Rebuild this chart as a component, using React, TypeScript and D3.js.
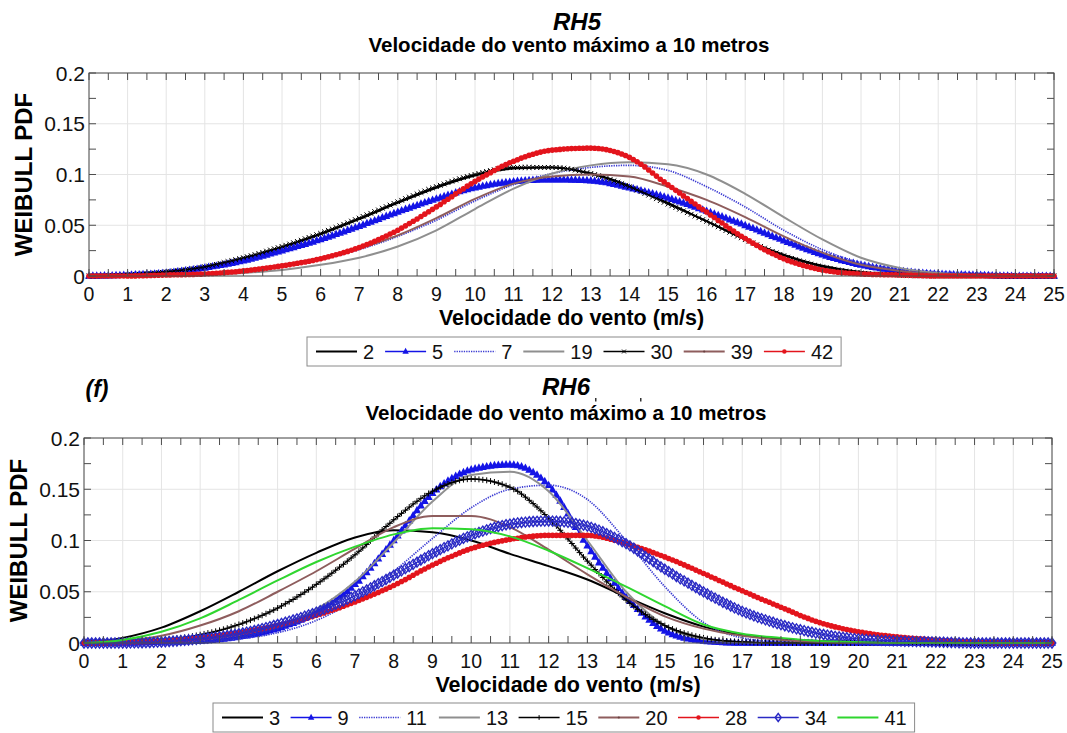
import React, { useLayoutEffect, useRef, useState } from "react";
import * as d3 from "d3";

// wind speed (m/s) at which each curve was read
const speeds = [0, 1, 2, 3, 4, 5, 6, 7, 8, 9, 10, 11, 12, 13, 14, 15, 16, 17, 18, 19, 20, 21, 22, 23, 24, 25];
const yTicks = [0, 0.05, 0.1, 0.15, 0.2];
const yTickLabels = ["0", "0.05", "0.1", "0.15", "0.2"];

// RH5 - weibull pdf
const rh5_2 = [0, 0.001, 0.004, 0.009, 0.017, 0.028, 0.041, 0.056, 0.072, 0.087, 0.099, 0.106, 0.107, 0.101, 0.089, 0.072, 0.054, 0.036, 0.021, 0.01, 0.004, 0.001, 0, 0, 0, 0];
const rh5_5 = [0, 0.001, 0.003, 0.008, 0.015, 0.025, 0.036, 0.049, 0.063, 0.076, 0.087, 0.093, 0.095, 0.094, 0.087, 0.077, 0.064, 0.05, 0.035, 0.021, 0.011, 0.005, 0.002, 0.001, 0, 0];
const rh5_7 = [0, 0, 0.001, 0.002, 0.005, 0.009, 0.016, 0.026, 0.039, 0.055, 0.074, 0.09, 0.101, 0.107, 0.109, 0.104, 0.088, 0.068, 0.045, 0.026, 0.013, 0.007, 0.004, 0.003, 0.002, 0.002];
const rh5_19 = [0, 0, 0, 0.001, 0.003, 0.006, 0.011, 0.018, 0.029, 0.045, 0.066, 0.086, 0.101, 0.109, 0.112, 0.11, 0.1, 0.081, 0.058, 0.036, 0.018, 0.008, 0.003, 0.001, 0, 0];
const rh5_30 = [0, 0.001, 0.004, 0.009, 0.018, 0.029, 0.042, 0.057, 0.073, 0.088, 0.1, 0.107, 0.107, 0.101, 0.088, 0.071, 0.054, 0.036, 0.02, 0.009, 0.003, 0.001, 0, 0, 0, 0];
const rh5_39 = [0, 0, 0.001, 0.003, 0.006, 0.011, 0.018, 0.027, 0.04, 0.057, 0.076, 0.091, 0.098, 0.1, 0.098, 0.088, 0.075, 0.058, 0.039, 0.023, 0.011, 0.005, 0.002, 0.001, 0, 0];
const rh5_42 = [0, 0, 0.001, 0.002, 0.005, 0.01, 0.017, 0.028, 0.045, 0.068, 0.093, 0.113, 0.124, 0.126, 0.117, 0.09, 0.063, 0.037, 0.017, 0.006, 0.002, 0.001, 0, 0, 0, 0];

// RH6
const rh6_3 = [0, 0.005, 0.015, 0.031, 0.05, 0.07, 0.088, 0.103, 0.11, 0.108, 0.1, 0.087, 0.075, 0.062, 0.045, 0.029, 0.016, 0.008, 0.004, 0.002, 0.001, 0, 0, 0, 0, 0];
const rh6_9 = [0, 0, 0.001, 0.002, 0.006, 0.014, 0.03, 0.057, 0.1, 0.146, 0.169, 0.174, 0.154, 0.095, 0.045, 0.012, 0.002, 0, 0, 0, 0, 0, 0, 0, 0, 0];
const rh6_11 = [0, 0, 0, 0.001, 0.004, 0.01, 0.022, 0.042, 0.07, 0.102, 0.132, 0.15, 0.154, 0.14, 0.1, 0.055, 0.02, 0.005, 0.001, 0, 0, 0, 0, 0, 0, 0];
const rh6_13 = [0, 0, 0.001, 0.003, 0.008, 0.017, 0.033, 0.06, 0.098, 0.138, 0.164, 0.167, 0.148, 0.1, 0.05, 0.017, 0.004, 0.001, 0, 0, 0, 0, 0, 0, 0, 0];
const rh6_15 = [0, 0.001, 0.003, 0.008, 0.018, 0.034, 0.057, 0.086, 0.12, 0.148, 0.16, 0.152, 0.122, 0.08, 0.042, 0.017, 0.005, 0.001, 0, 0, 0, 0, 0, 0, 0, 0];
const rh6_20 = [0, 0.002, 0.007, 0.017, 0.031, 0.05, 0.07, 0.092, 0.113, 0.124, 0.124, 0.113, 0.091, 0.067, 0.045, 0.026, 0.014, 0.007, 0.003, 0.001, 0, 0, 0, 0, 0, 0];
const rh6_28 = [0, 0.0005, 0.002, 0.005, 0.01, 0.017, 0.027, 0.04, 0.056, 0.076, 0.092, 0.101, 0.105, 0.105, 0.097, 0.084, 0.068, 0.051, 0.035, 0.02, 0.011, 0.006, 0.003, 0.001, 0, 0];
const rh6_34 = [0, 0, 0.001, 0.004, 0.009, 0.018, 0.03, 0.046, 0.066, 0.087, 0.105, 0.116, 0.119, 0.114, 0.097, 0.072, 0.05, 0.031, 0.018, 0.009, 0.004, 0.002, 0.001, 0, 0, 0];
const rh6_41 = [0, 0.003, 0.011, 0.024, 0.042, 0.061, 0.079, 0.094, 0.106, 0.112, 0.111, 0.104, 0.09, 0.073, 0.055, 0.036, 0.018, 0.009, 0.005, 0.002, 0.001, 0, 0, 0, 0, 0];

const rh5Series = [
  { name: "2", values: rh5_2, kind: "black" },
  { name: "5", values: rh5_5, kind: "tri" },
  { name: "7", values: rh5_7, kind: "dotted" },
  { name: "19", values: rh5_19, kind: "gray" },
  { name: "30", values: rh5_30, kind: "cross" },
  { name: "39", values: rh5_39, kind: "brown" },
  { name: "42", values: rh5_42, kind: "red" },
];

const rh6Series = [
  { name: "3", values: rh6_3, kind: "black" },
  { name: "9", values: rh6_9, kind: "tri" },
  { name: "11", values: rh6_11, kind: "dotted" },
  { name: "13", values: rh6_13, kind: "gray" },
  { name: "15", values: rh6_15, kind: "plus" },
  { name: "20", values: rh6_20, kind: "brown" },
  { name: "28", values: rh6_28, kind: "red" },
  { name: "34", values: rh6_34, kind: "diamond" },
  { name: "41", values: rh6_41, kind: "green" },
];

type Kind = {
  color: string;
  width: number;
  dash?: string;
  marker?: string;
  legendMarker?: string;
  markerColor?: string;
};

const kinds: Record<string, Kind> = {
  black: { color: "#000000", width: 2 },
  tri: { color: "#1414e6", width: 1.5, marker: "tri" },
  dotted: { color: "#3a3ad2", width: 1.7, dash: "1.3 1.1" },
  gray: { color: "#8f8f8f", width: 2 },
  cross: { color: "#000000", width: 1.3, marker: "x" },
  plus: { color: "#000000", width: 1.3, marker: "plus" },
  brown: { color: "#8e5d5d", width: 2, legendMarker: "dot", markerColor: "#6a4040" },
  red: { color: "#e3141c", width: 1.5, marker: "circle" },
  diamond: { color: "#2a2ac4", width: 1.3, marker: "diamond" },
  green: { color: "#2fd62f", width: 2 },
};

const FONT = "Liberation Sans, Arial, Helvetica, sans-serif";

const Marker = ({ type, x, y, color, s = 1 }: { type: string; x: number; y: number; color: string; s?: number }) => {
  if (type === "tri")
    return <polygon points={`${x},${y - 4.6 * s} ${x - 4 * s},${y + 2.8 * s} ${x + 4 * s},${y + 2.8 * s}`} fill={color} />;
  if (type === "circle") return <circle cx={x} cy={y} r={2.8 * s} fill={color} />;
  if (type === "dot") return <circle cx={x} cy={y} r={1.4 * s} fill={color} />;
  if (type === "diamond")
    return (
      <polygon
        points={`${x},${y - 5 * s} ${x + 3.8 * s},${y} ${x},${y + 5 * s} ${x - 3.8 * s},${y}`}
        fill="none"
        stroke={color}
        strokeWidth={1.4}
      />
    );
  if (type === "x")
    return (
      <path
        d={`M${x - 2.4 * s},${y - 2.4 * s}L${x + 2.4 * s},${y + 2.4 * s}M${x - 2.4 * s},${y + 2.4 * s}L${x + 2.4 * s},${y - 2.4 * s}`}
        stroke={color}
        strokeWidth={1}
      />
    );
  if (type === "plus")
    return (
      <path
        d={`M${x - 3 * s},${y}L${x + 3 * s},${y}M${x},${y - 3 * s}L${x},${y + 3 * s}`}
        stroke={color}
        strokeWidth={1}
      />
    );
  return null;
};

const Curve = ({ values, kind, xScale, yScale }: any) => {
  const st = kinds[kind];
  const pathRef = useRef<SVGPathElement>(null);
  const [pts, setPts] = useState<number[][]>([]);

  const d =
    d3
      .line<number>()
      .x((_, i) => xScale(speeds[i]))
      .y((v) => yScale(v))
      .curve(d3.curveMonotoneX)(values) || "";

  // markers sit on the drawn curve every 0.1 m/s, like the dense matlab markers
  useLayoutEffect(() => {
    const p = pathRef.current;
    if (!st.marker || !p) return;
    const total = p.getTotalLength();
    const samples: DOMPoint[] = [];
    for (let l = 0; l <= total; l += 0.5) samples.push(p.getPointAtLength(l));
    samples.push(p.getPointAtLength(total));
    const step = (xScale(1) - xScale(0)) / 10;
    const out: number[][] = [];
    let j = 0;
    for (let px = xScale(0); px <= xScale(25) + 0.01; px += step) {
      while (j < samples.length - 1 && samples[j].x < px) j++;
      out.push([px, samples[j].y]);
    }
    setPts(out);
  }, [d]);

  return (
    <g>
      <path
        ref={pathRef}
        d={d}
        fill="none"
        stroke={st.color}
        strokeWidth={st.width}
        strokeDasharray={st.dash}
        strokeLinejoin="round"
      />
      {st.marker &&
        pts.map((pt, i) => <Marker key={i} type={st.marker!} x={pt[0]} y={pt[1]} color={st.color} />)}
    </g>
  );
};

const Panel = ({ left, right, top, bottom, series }: any) => {
  const xScale = d3.scaleLinear().domain([0, 25]).range([left, right]);
  const yScale = d3.scaleLinear().domain([0, 0.2]).range([bottom, top]);
  const tick = 7;
  const minorX = speeds.slice(0, -1).map((s) => s + 0.5);
  const minorY = yTicks.slice(0, -1).map((t) => t + 0.025);
  const axisColor = "#4d4d4d";

  return (
    <g>
      {speeds.map((s) => (
        <line key={"gx" + s} x1={xScale(s)} x2={xScale(s)} y1={top} y2={bottom} stroke="#e4e4e4" />
      ))}
      {yTicks.map((t) => (
        <line key={"gy" + t} x1={left} x2={right} y1={yScale(t)} y2={yScale(t)} stroke="#e4e4e4" />
      ))}
      {series.map((s: any) => (
        <Curve key={s.name} values={s.values} kind={s.kind} xScale={xScale} yScale={yScale} />
      ))}
      <rect x={left} y={top} width={right - left} height={bottom - top} fill="none" stroke={axisColor} />
      {[...speeds, ...minorX].map((s) => (
        <g key={"tx" + s} stroke={axisColor}>
          <line x1={xScale(s)} x2={xScale(s)} y1={bottom} y2={bottom - tick} />
          <line x1={xScale(s)} x2={xScale(s)} y1={top} y2={top + tick} />
        </g>
      ))}
      {[...yTicks, ...minorY].map((t) => (
        <g key={"ty" + t} stroke={axisColor}>
          <line x1={left} x2={left + tick} y1={yScale(t)} y2={yScale(t)} />
          <line x1={right} x2={right - tick} y1={yScale(t)} y2={yScale(t)} />
        </g>
      ))}
      {speeds.map((s) => (
        <text key={"lx" + s} x={xScale(s)} y={bottom + 25} textAnchor="middle" fontSize={19.5} fontFamily={FONT} fill="#111">
          {s}
        </text>
      ))}
      {yTicks.map((t, i) => (
        <text key={"ly" + t} x={left - 4} y={yScale(t) + 7.5} textAnchor="end" fontSize={21} fontFamily={FONT} fill="#111">
          {yTickLabels[i]}
        </text>
      ))}
      <text
        transform={`translate(${left - 57},${(top + bottom) / 2}) rotate(-90)`}
        textAnchor="middle"
        fontSize={24}
        fontWeight="bold"
        fontFamily={FONT}
      >
        WEIBULL PDF
      </text>
      <text x={(left + right) / 2} y={bottom + 49} textAnchor="middle" fontSize={21.5} fontWeight="bold" fontFamily={FONT}>
        Velocidade do vento (m/s)
      </text>
    </g>
  );
};

const Legend = ({ x, y, series, gap }: any) => {
  const lineLen = 41;
  const h = 29;
  let cursor = x + 9;
  const items = series.map((s: any) => {
    const st = kinds[s.kind];
    const lx = cursor;
    const tx = lx + lineLen + 6;
    cursor = tx + s.name.length * 11.1 + gap;
    return { s, st, lx, tx };
  });
  const w = cursor - gap + 8 - x;
  const cy = y + h / 2;
  return (
    <g>
      <rect x={x} y={y} width={w} height={h} fill="#fff" stroke="#8a8a8a" />
      {items.map(({ s, st, lx, tx }: any) => (
        <g key={s.name}>
          <line x1={lx} x2={lx + lineLen} y1={cy} y2={cy} stroke={st.color} strokeWidth={st.width} strokeDasharray={st.dash} />
          {(st.marker || st.legendMarker) && (
            <Marker type={st.marker || st.legendMarker} x={lx + lineLen / 2} y={cy} color={st.markerColor || st.color} s={0.8} />
          )}
          <text x={tx} y={cy + 7} fontSize={20} fontFamily={FONT} fill="#111">
            {s.name}
          </text>
        </g>
      ))}
    </g>
  );
};

export default function App() {
  return (
    <svg width={1067} height={733} style={{ position: "absolute", left: 0, top: 0, background: "#fff" }}>
      <rect width={1067} height={733} fill="#fff" />
      <text x={577} y={30} textAnchor="middle" fontSize={24} fontWeight="bold" fontStyle="italic" fontFamily={FONT}>
        RH5
      </text>
      <text x={569} y={52} textAnchor="middle" fontSize={20.5} fontWeight="bold" fontFamily={FONT}>
        Velocidade do vento máximo a 10 metros
      </text>
      <Panel left={89} right={1054} top={73} bottom={276} series={rh5Series} />
      <Legend x={307} y={337} series={rh5Series} gap={11} />

      <text x={97} y={397} textAnchor="middle" fontSize={23} fontWeight="bold" fontStyle="italic" fontFamily={FONT}>
        (f)
      </text>
      <text x={566} y={395} textAnchor="middle" fontSize={24} fontWeight="bold" fontStyle="italic" fontFamily={FONT}>
        RH6
      </text>
      {/* two stray marks between the second title and subtitle */}
      <rect x={595} y={398} width={1.5} height={3.5} fill="#333" />
      <rect x={640} y={398} width={1.5} height={3.5} fill="#333" />
      <text x={566} y={420} textAnchor="middle" fontSize={20.5} fontWeight="bold" fontFamily={FONT}>
        Velocidade do vento máximo a 10 metros
      </text>
      <Panel left={84} right={1052} top={438} bottom={643} series={rh6Series} />
      <Legend x={213} y={703} series={rh6Series} gap={10.5} />
    </svg>
  );
}
